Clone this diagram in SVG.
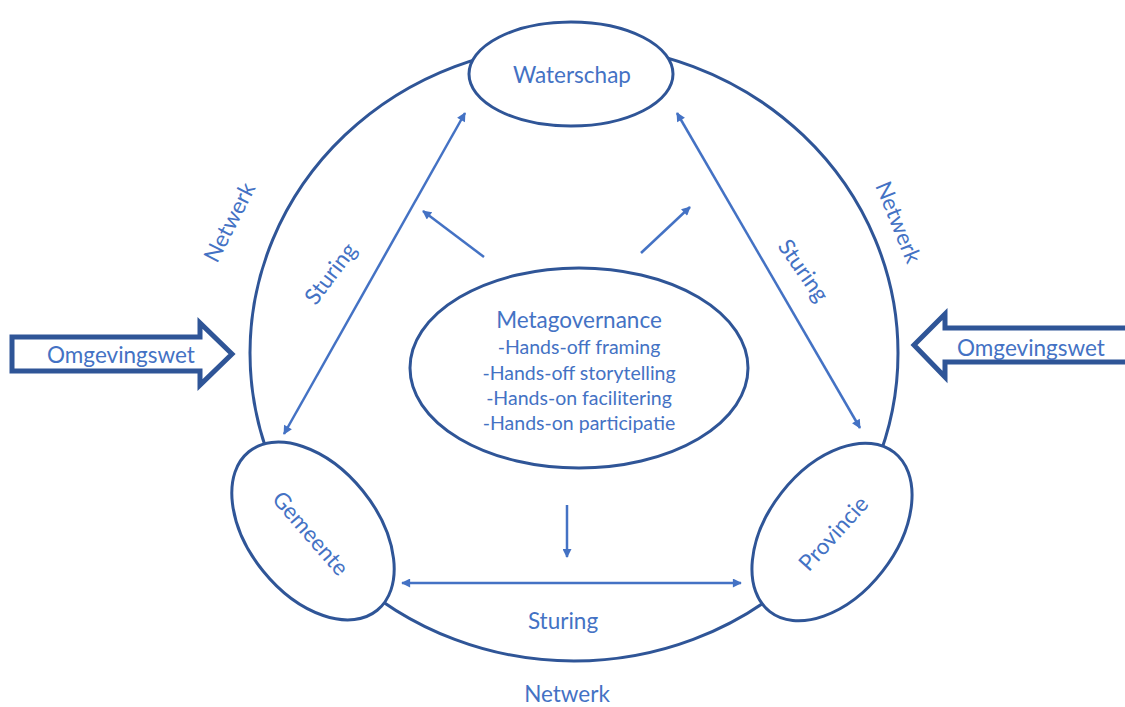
<svg xmlns="http://www.w3.org/2000/svg" width="1125" height="707" viewBox="0 0 1125 707">
<style>
.shape{fill:#fff;stroke:#2F5597;stroke-width:3}
.ring{fill:none;stroke:#2F5597;stroke-width:3}
.big{fill:#fff;stroke:#2F5597;stroke-width:5;stroke-linejoin:miter}
.con{fill:none;stroke:#4472C4;stroke-width:2.5}
.t{font-family:Lato,"Liberation Sans",sans-serif;fill:#4472C4;font-size:22.5px;text-anchor:middle;dominant-baseline:central}
.s{font-size:19.5px}
</style>
<defs>
<marker id="ah" viewBox="0 0 10 10" refX="9" refY="5" markerWidth="11" markerHeight="9" markerUnits="userSpaceOnUse" orient="auto-start-reverse">
<path d="M0,0 L10,5 L0,10 Z" fill="#4472C4"/>
</marker>
</defs>
<ellipse class="ring" cx="574" cy="353" rx="324" ry="308"/>
<g id="connectors">
<line class="con" x1="465" y1="113" x2="284" y2="434" marker-start="url(#ah)" marker-end="url(#ah)"/>
<line class="con" x1="677" y1="113" x2="860" y2="428" marker-start="url(#ah)" marker-end="url(#ah)"/>
<line class="con" x1="402" y1="583" x2="741" y2="583" marker-start="url(#ah)" marker-end="url(#ah)"/>
<line class="con" x1="484" y1="257" x2="423" y2="211" marker-end="url(#ah)"/>
<line class="con" x1="641" y1="253" x2="690" y2="207" marker-end="url(#ah)"/>
<line class="con" x1="567" y1="505" x2="567" y2="557" marker-end="url(#ah)"/>
</g>
<g id="waterschap">
<ellipse class="shape" cx="571" cy="74" rx="102" ry="52"/>
<text class="t" x="572" y="74">Waterschap</text>
</g>
<g id="gemeente">
<ellipse class="shape" cx="313" cy="531" rx="102" ry="64" transform="rotate(51 313 531)"/>
<text class="t" x="311" y="533" transform="rotate(49 311 533)">Gemeente</text>
</g>
<g id="provincie">
<ellipse class="shape" cx="832" cy="532" rx="101" ry="64" transform="rotate(-52 832 532)"/>
<text class="t" x="833" y="533" transform="rotate(-48 833 533)">Provincie</text>
</g>
<g id="metagovernance">
<ellipse class="shape" cx="579" cy="368" rx="169" ry="100"/>
<text class="t" x="579" y="319">Metagovernance</text>
<text class="t s" x="579" y="346">-Hands-off framing</text>
<text class="t s" x="579" y="372">-Hands-off storytelling</text>
<text class="t s" x="579" y="397">-Hands-on facilitering</text>
<text class="t s" x="579" y="422">-Hands-on participatie</text>
</g>
<g id="omgevingswet-left">
<polygon class="big" points="12,337 200,337 200,323 232,354 200,385 200,371 12,371"/>
<text class="t" x="121" y="354">Omgevingswet</text>
</g>
<g id="omgevingswet-right">
<polygon class="big" points="1135,328 945,328 945,314 914,345 945,377 945,362 1135,362"/>
<text class="t" x="1031" y="347">Omgevingswet</text>
</g>
<g id="labels">
<text class="t" x="229" y="222" transform="rotate(-63 229 222)">Netwerk</text>
<text class="t" x="899" y="222" transform="rotate(68 899 222)">Netwerk</text>
<text class="t" x="567" y="693">Netwerk</text>
<text class="t" x="330" y="273" transform="rotate(-53 330 273)">Sturing</text>
<text class="t" x="804" y="270" transform="rotate(55 804 270)">Sturing</text>
<text class="t" x="563" y="620">Sturing</text>
</g>
</svg>
